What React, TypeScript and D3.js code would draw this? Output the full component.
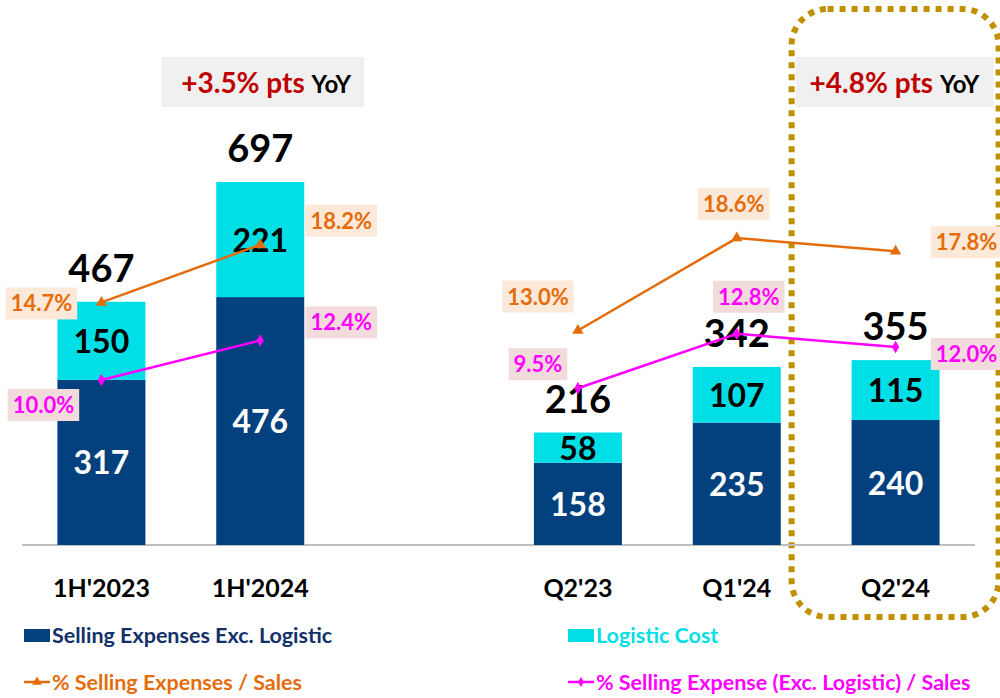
import React, { useEffect, useRef } from "react";
import * as d3 from "d3";

const categories = ["1H'2023", "1H'2024", "gap", "Q2'23", "Q1'24", "Q2'24"];
const sellingExcLogistic: (number | null)[] = [317, 476, null, 158, 235, 240];
const logisticCost: (number | null)[] = [150, 221, null, 58, 107, 115];
const totals: (number | null)[] = [467, 697, null, 216, 342, 355];
const pctSelling: (number | null)[] = [14.7, 18.2, null, 13.0, 18.6, 17.8];
const pctSellingExcLog: (number | null)[] = [10.0, 12.4, null, 9.5, 12.8, 12.0];
const yoyNotes = [
  { at: "1H'2024", value: "+3.5% pts", suffix: "YoY" },
  { at: "Q2'24", value: "+4.8% pts", suffix: "YoY" },
];
const legendItems = [
  { label: "Selling Expenses Exc. Logistic", kind: "rect", color: "#03417e" },
  { label: "Logistic Cost", kind: "rect", color: "#00dfe6" },
  { label: "% Selling Expenses / Sales", kind: "tri", color: "#e46c0a" },
  { label: "% Selling Expense (Exc. Logistic) / Sales", kind: "dia", color: "#ff00ff" },
];

// label offsets (position styling)
const orangeOffsets = [[-60, 1], [81, -24], null, [-40, -34], [-3, -34], [71, -9]];
const magentaOffsets = [[-58, 25], [81, -18], null, [-40, -24], [12, -37], [71, 7]];

const NAVY = "#03417e";
const CYAN = "#00dfe6";
const ORANGE = "#e46c0a";
const MAGENTA = "#ff00ff";
const FONT = "Lato, 'Open Sans', sans-serif";

export default function App() {
  const ref = useRef<SVGSVGElement>(null);
  useEffect(() => {
    const svg = d3.select(ref.current);
    svg.selectAll("*").remove();

    const x = d3.scaleBand<string>().domain(categories).range([22, 975]).paddingInner(0.446).paddingOuter(0.223);
    const y = d3.scaleLinear().domain([0, 800]).range([545, 545 - 800 * 0.5208]);
    const y2 = d3.scaleLinear().domain([0, 30]).range([545, 50]);
    const cx = (i: number) => (x(categories[i]) as number) + x.bandwidth() / 2;

    // dotted highlight box
    const bandQ = x("Q2'24") as number;
    svg.append("rect")
      .attr("x", bandQ - 60).attr("y", 9)
      .attr("width", 207).attr("height", 608)
      .attr("rx", 36).attr("ry", 36)
      .attr("fill", "none").attr("stroke", "#c09000")
      .attr("stroke-width", 6).attr("stroke-dasharray", "6 6");

    // axis line
    svg.append("line").attr("x1", 22).attr("x2", 975).attr("y1", y(0)).attr("y2", y(0))
      .attr("stroke", "#bfbfbf").attr("stroke-width", 2);

    // bars
    categories.forEach((c, i) => {
      const a = sellingExcLogistic[i];
      const b = logisticCost[i];
      if (a == null || b == null) return;
      const x0 = x(c) as number;
      svg.append("rect").attr("x", x0).attr("width", x.bandwidth())
        .attr("y", y(a)).attr("height", y(0) - y(a)).attr("fill", NAVY);
      svg.append("rect").attr("x", x0).attr("width", x.bandwidth())
        .attr("y", y(a + b)).attr("height", y(a) - y(a + b)).attr("fill", CYAN);
      svg.append("text").attr("x", cx(i)).attr("y", (y(a) + y(0)) / 2 + 12)
        .attr("text-anchor", "middle").attr("font-family", FONT).attr("font-weight", 700)
        .attr("font-size", 32).attr("fill", "#ffffff").text(a);
      svg.append("text").attr("x", cx(i)).attr("y", (y(a) + y(a + b)) / 2 + 12)
        .attr("text-anchor", "middle").attr("font-family", FONT).attr("font-weight", 700)
        .attr("font-size", 32).attr("fill", "#000000").text(b);
      // x label
      svg.append("text").attr("x", cx(i)).attr("y", 597)
        .attr("text-anchor", "middle").attr("font-family", FONT).attr("font-weight", 700)
        .attr("font-size", 25).attr("fill", "#000").text(c);
    });

    // lines
    const drawLine = (vals: (number | null)[], color: string, marker: "tri" | "dia") => {
      const pts = vals.map((v, i) => (v == null ? null : [cx(i), y2(v)] as [number, number]));
      const line = d3.line<[number, number] | null>()
        .defined((d) => d != null)
        .x((d) => (d as [number, number])[0])
        .y((d) => (d as [number, number])[1]);
      svg.append("path").attr("d", line(pts) as string).attr("fill", "none")
        .attr("stroke", color).attr("stroke-width", 2.5);
      const sym = d3.symbol().type(marker === "tri" ? d3.symbolTriangle : d3.symbolDiamond).size(marker === "tri" ? 55 : 45);
      pts.forEach((p) => {
        if (!p) return;
        svg.append("path").attr("d", sym() as string)
          .attr("transform", `translate(${p[0]},${p[1]})`).attr("fill", color);
      });
    };

    // total labels
    categories.forEach((c, i) => {
      const t = totals[i];
      if (t == null) return;
      svg.append("text").attr("x", cx(i)).attr("y", y(t) - 20)
        .attr("text-anchor", "middle").attr("font-family", FONT).attr("font-weight", 700)
        .attr("font-size", 38).attr("fill", "#000").text(t);
    });

    drawLine(pctSelling, ORANGE, "tri");
    drawLine(pctSellingExcLog, MAGENTA, "dia");

    // pct labels
    const pctLabels = (vals: (number | null)[], offs: (number[] | null)[], color: string, bg: string) => {
      vals.forEach((v, i) => {
        const o = offs[i];
        if (v == null || !o) return;
        const lx = cx(i) + o[0];
        const ly = y2(v) + o[1];
        const g = svg.append("g");
        const rect = g.append("rect").attr("fill", bg);
        const txt = g.append("text").attr("x", lx).attr("y", ly + 8)
          .attr("text-anchor", "middle").attr("font-family", FONT).attr("font-weight", 700)
          .attr("font-size", 22).attr("fill", color).text(v.toFixed(1) + "%");
        const w = (txt.node() as SVGTextElement).getComputedTextLength();
        rect.attr("x", lx - w / 2 - 5).attr("y", ly - 16).attr("width", w + 10).attr("height", 32);
      });
    };
    pctLabels(pctSelling, orangeOffsets, ORANGE, "#fde9d9");
    pctLabels(pctSellingExcLog, magentaOffsets, MAGENTA, "#f2dcdb");

    // YoY notes
    yoyNotes.forEach((n) => {
      const band = x(n.at) as number;
      const bx = n.at === "Q2'24" ? band - 56 : band - 55;
      svg.append("rect").attr("x", bx).attr("y", 57).attr("width", n.at === "Q2'24" ? 198 : 203)
        .attr("height", 50).attr("fill", "#f0f0f0");
      const t = svg.append("text").attr("x", bx + (n.at === "Q2'24" ? 14 : 20)).attr("y", 93)
        .attr("font-family", FONT).attr("font-weight", 700);
      t.append("tspan").attr("font-size", 28).attr("fill", "#c00000").text(n.value + " ");
      t.append("tspan").attr("font-size", 24).attr("fill", "#000").text(n.suffix);
    });

    // legend
    const legPos = [[24, 635], [568, 635], [24, 682], [568, 682]];
    legendItems.forEach((it, i) => {
      const [lx, ly] = legPos[i];
      if (it.kind === "rect") {
        svg.append("rect").attr("x", lx).attr("y", ly - 6).attr("width", 26).attr("height", 13).attr("fill", it.color);
      } else {
        svg.append("line").attr("x1", lx).attr("x2", lx + 26).attr("y1", ly).attr("y2", ly)
          .attr("stroke", it.color).attr("stroke-width", 2.5);
        const sym = d3.symbol().type(it.kind === "tri" ? d3.symbolTriangle : d3.symbolDiamond).size(it.kind === "tri" ? 40 : 30);
        svg.append("path").attr("d", sym() as string).attr("transform", `translate(${lx + 13},${ly})`).attr("fill", it.color);
      }
      svg.append("text").attr("x", lx + 28).attr("y", ly + 8)
        .attr("font-family", FONT).attr("font-weight", 700).attr("font-size", 21.5)
        .attr("fill", it.kind === "rect" && i === 0 ? "#12306a" : it.color).text(it.label);
    });
  }, []);

  return (
    <svg ref={ref} width={1000} height={698}
      style={{ position: "absolute", left: 0, top: 0, display: "block", background: "#fff" }} />
  );
}
